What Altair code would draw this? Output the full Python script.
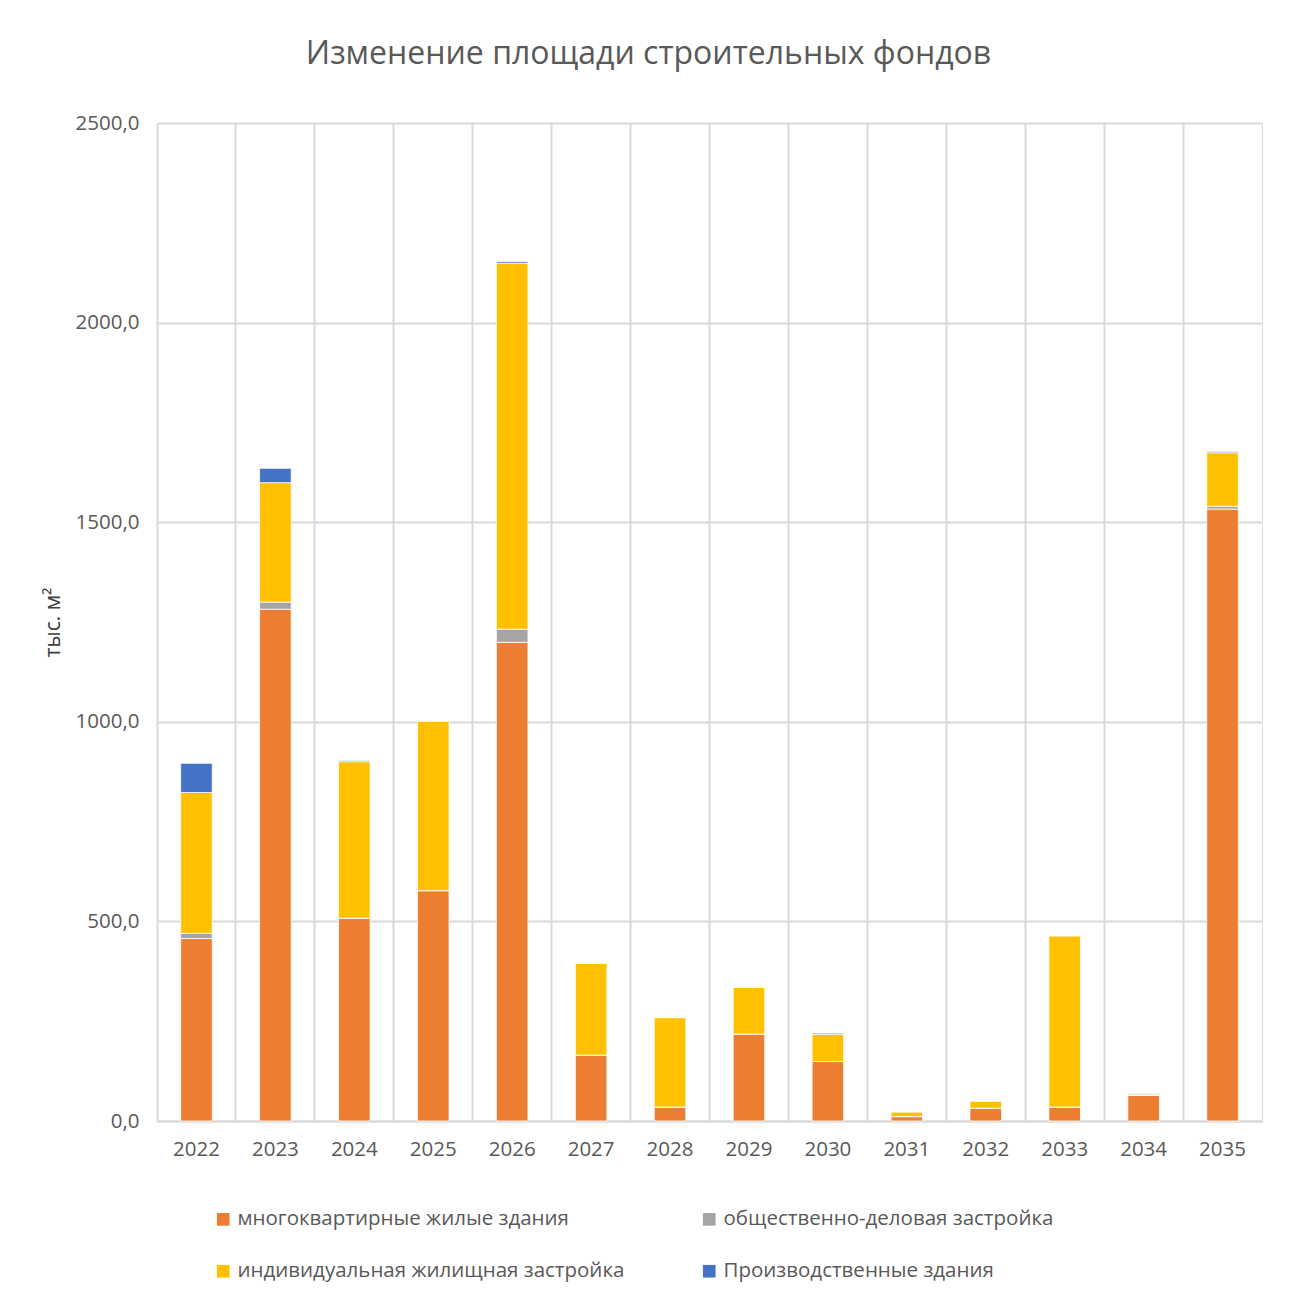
import altair as alt
import pandas as pd

years = [str(y) for y in range(2022, 2036)]
series = [
    "многоквартирные жилые здания",
    "общественно-деловая застройка",
    "индивидуальная жилищная застройка",
    "Производственные здания",
]
colors = ["#ED7D31", "#A5A5A5", "#FFC000", "#4472C4"]

apartments = [457, 1282, 508, 577, 1199, 165, 35, 218, 149, 11, 32, 35, 64, 1533]
public_business = [13, 18, 0, 0, 33, 0, 0, 0, 0, 0, 0, 0, 0, 7]
individual = [353, 299, 392, 425, 917, 230, 224, 117, 68, 12, 18, 429, 3, 134]
industrial = [73, 36, 3, 0, 4, 0, 0, 0, 3, 0, 0, 0, 2, 3]

rows = []
for i, y in enumerate(years):
    for k, (name, vals) in enumerate(zip(series, [apartments, public_business, individual, industrial])):
        rows.append({"year": y, "series": name, "value": vals[i], "order": k})
df = pd.DataFrame(rows)

FONT = "Open Sans"
GRID = "#D9D9D9"
TXT = "#595959"

chart = (
    alt.Chart(df)
    .mark_bar(width=alt.RelativeBandSize(0.4), stroke="white", strokeWidth=0.8)
    .encode(
        x=alt.X(
            "year:N",
            sort=years,
            title=None,
            scale=alt.Scale(paddingInner=0, paddingOuter=0),
            axis=alt.Axis(
                grid=True,
                bandPosition=0,
                gridColor=GRID,
                gridWidth=2,
                ticks=False,
                domainColor=GRID,
                domainWidth=2,
                labelAngle=0,
                labelFont=FONT,
                labelFontSize=20.5,
                labelColor=TXT,
                labelPadding=18,
            ),
        ),
        y=alt.Y(
            "value:Q",
            stack="zero",
            title="тыс. м²",
            scale=alt.Scale(domain=[0, 2500], nice=False),
            axis=alt.Axis(
                values=[0, 500, 1000, 1500, 2000, 2500],
                labelExpr="replace(format(datum.value, '.1f'), '.', ',')",
                grid=True,
                gridColor=GRID,
                gridWidth=2,
                ticks=False,
                domain=False,
                labelFont=FONT,
                labelFontSize=20.5,
                labelColor=TXT,
                labelPadding=18,
                titleFont=FONT,
                titleFontSize=21,
                titleFontWeight="normal",
                titleColor="#404040",
                titlePadding=12,
            ),
        ),
        color=alt.Color(
            "series:N",
            sort=series,
            scale=alt.Scale(domain=series, range=colors),
            legend=alt.Legend(
                title=None,
                orient="none",
                legendX=56,
                legendY=1086,
                direction="horizontal",
                columns=2,
                columnPadding=74,
                rowPadding=31,
                symbolType="square",
                symbolSize=160,
                symbolStrokeWidth=0,
                labelFont=FONT,
                labelFontSize=20.5,
                labelColor=TXT,
                labelLimit=600,
            ),
        ),
        order=alt.Order("order:Q"),
    )
    .properties(
        width=1105,
        height=998,
        title=alt.TitleParams(
            "Изменение площади строительных фондов",
            font=FONT,
            fontSize=32,
            fontWeight="normal",
            color=TXT,
            anchor="middle",
            frame="group",
            dx=-61,
            offset=42,
        ),
        autosize=alt.AutoSizeParams(type="none"),
        padding={"left": 149, "top": 115, "right": 20, "bottom": 175},
    )
    .configure_view(stroke=GRID, strokeWidth=2)
    .configure(background="white")
)

chart.save("out.html", embed_options={"renderer": "svg", "actions": False})
